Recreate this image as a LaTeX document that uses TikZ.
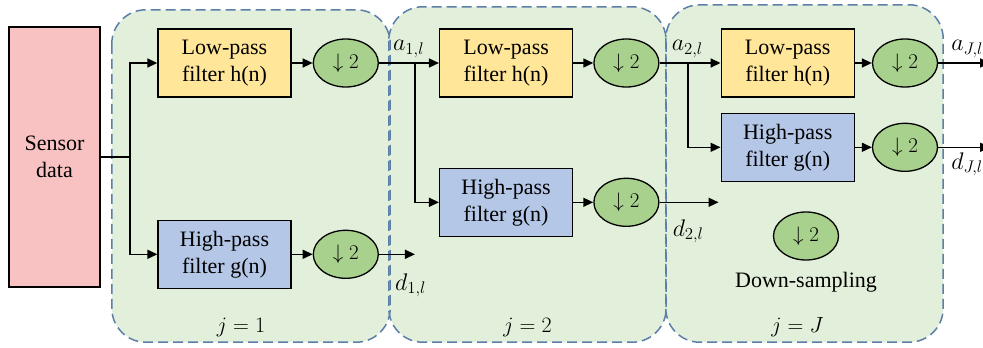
\RequirePackage{fix-cm}
\documentclass[tikz,border=0pt]{standalone}
\usepackage{fontspec}
\setmainfont{Liberation Serif}
\usepackage{tikz}
\usetikzlibrary{arrows.meta, positioning, shapes.geometric, calc}

\definecolor{stagefill}{HTML}{E2EFDA}
\definecolor{stageline}{HTML}{5B7FA6}
\definecolor{sensfill}{HTML}{F8C2C2}
\definecolor{lowfill}{HTML}{FFE699}
\definecolor{highfill}{HTML}{B4C7E7}
\definecolor{dsfill}{HTML}{A9D18E}

\begin{document}
\begin{tikzpicture}[x=1pt, y=-1pt,
    node distance=20pt and 20pt,
    stage/.style={fill=stagefill, inner sep=0pt, rounded corners=34pt},
    border/.style={draw=stageline, line width=1.5pt, dash pattern=on 10pt off 5pt, rounded corners=34pt},
    sensor/.style={draw, line width=1.3pt, fill=sensfill, minimum width=91pt, minimum height=260pt, align=center, font=\fontsize{22}{27}\selectfont},
    lpf/.style={draw, line width=1.3pt, fill=lowfill, minimum width=133pt, minimum height=68pt, align=center, font=\fontsize{22}{27}\selectfont},
    hpf/.style={lpf, fill=highfill},
    ds/.style={draw, ellipse, line width=1.3pt, fill=dsfill, minimum width=65pt, minimum height=48pt, inner sep=0pt, font=\fontsize{21}{22}\selectfont},
    lbl/.style={font=\fontsize{24}{26}\selectfont, inner sep=1pt},
    jlbl/.style={font=\fontsize{22}{24}\selectfont},
    wire/.style={line width=1.5pt},
    >={Triangle[length=10pt, width=9pt]}]

  \useasboundingbox[fill=white] (0,0) rectangle (983,348);

  % the three levels
  \node[stage, minimum width=278pt, minimum height=332pt] (st1) at (251,176) {};
  \node[stage, minimum width=277pt, minimum height=335pt] (st2) at (527.5,174.5) {};
  \node[stage, minimum width=277pt, minimum height=337pt] (st3) at (804.5,173.5) {};
  \foreach \s in {st1,st2,st3}
    \draw[border] (\s.north west) rectangle (\s.south east);
  \node[jlbl, above=2pt of st1.south, xshift=-10pt] (j1) {$j=1$};
  \node[jlbl, above=2pt of st2.south] (j2) {$j=2$};
  \node[jlbl, above=2pt of st3.south, xshift=-7pt] (j3) {$j=J$};

  \node[sensor] (sen) at (54.5,157) {Sensor\\data};

  % level 1
  \node[lpf] (lp1) at (224.5,63) {Low-pass\\filter h(n)};
  \node[ds, right=21pt of lp1] (ds1) {$\downarrow 2$};
  \node[hpf, below=122pt of lp1] (hp1) {High-pass\\filter g(n)};
  \node[ds, right=21pt of hp1] (ds2) {$\downarrow 2$};

  % level 2
  \node[lpf, right=60pt of ds1] (lp2) {Low-pass\\filter h(n)};
  \node[ds, right=20pt of lp2] (ds3) {$\downarrow 2$};
  \node[hpf, below=70pt of lp2] (hp2) {High-pass\\filter g(n)};
  \node[ds, right=20pt of hp2] (ds4) {$\downarrow 2$};

  % level J
  \node[lpf, right=61pt of ds3] (lp3) {Low-pass\\filter h(n)};
  \node[ds, right=17pt of lp3] (ds5) {$\downarrow 2$};
  \node[hpf, below=15pt of lp3] (hp3) {High-pass\\filter g(n)};
  \node[ds, right=17pt of hp3] (ds6) {$\downarrow 2$};

  % legend
  \node[ds] (dsl) at (806,236) {$\downarrow 2$};
  \node[jlbl, below=8pt of dsl] (leg) {Down-sampling};

  % branch points and free ends
  \coordinate (j0) at (130,157);
  \coordinate (b1) at ($(ds1.east)!0.6!(lp2.west)$);
  \coordinate (b2) at ($(ds3.east)!0.47!(lp3.west)$);
  \coordinate (d1) at ($(ds2.east)+(36,0)$);
  \coordinate (d2) at ($(ds4.east)+(59,0)$);
  \coordinate (aJ) at ($(ds5.east)+(52,0)$);
  \coordinate (dJ) at ($(ds6.east)+(52,0)$);

  \draw[wire] (sen.east) -- (j0);
  \draw[wire, ->] (j0) |- (lp1);
  \draw[wire, ->] (j0) |- (hp1);
  \draw[wire, ->] (lp1) -- (ds1);
  \draw[wire, ->] (hp1) -- (ds2);
  \draw[wire, ->] (ds1) -- (lp2);
  \draw[wire, ->] (b1) |- (hp2);
  \draw[wire, ->] (ds2) -- (d1);
  \draw[wire, ->] (lp2) -- (ds3);
  \draw[wire, ->] (hp2) -- (ds4);
  \draw[wire, ->] (ds3) -- (lp3);
  \draw[wire, ->] (b2) |- (hp3);
  \draw[wire, ->] (ds4) -- (d2);
  \draw[wire, ->] (lp3) -- (ds5);
  \draw[wire, ->] (hp3) -- (ds6);
  \draw[wire, ->] (ds5) -- (aJ);
  \draw[wire, ->] (ds6) -- (dJ);

  \node[lbl, above right=4pt and 13pt of ds1.east] (la1) {$a_{1,l}$};
  \node[lbl, above right=4pt and 11pt of ds3.east] (la2) {$a_{2,l}$};
  \node[lbl, above right=4pt and 12pt of ds5.east] (laJ) {$a_{J,l}$};
  \node[lbl, below right=18pt and 15pt of ds2.east] (ld1) {$d_{1,l}$};
  \node[lbl, below right=16pt and 12pt of ds4.east] (ld2) {$d_{2,l}$};
  \node[lbl, below right=4pt and 12pt of ds6.east] (ldJ) {$d_{J,l}$};
\end{tikzpicture}
\end{document}
